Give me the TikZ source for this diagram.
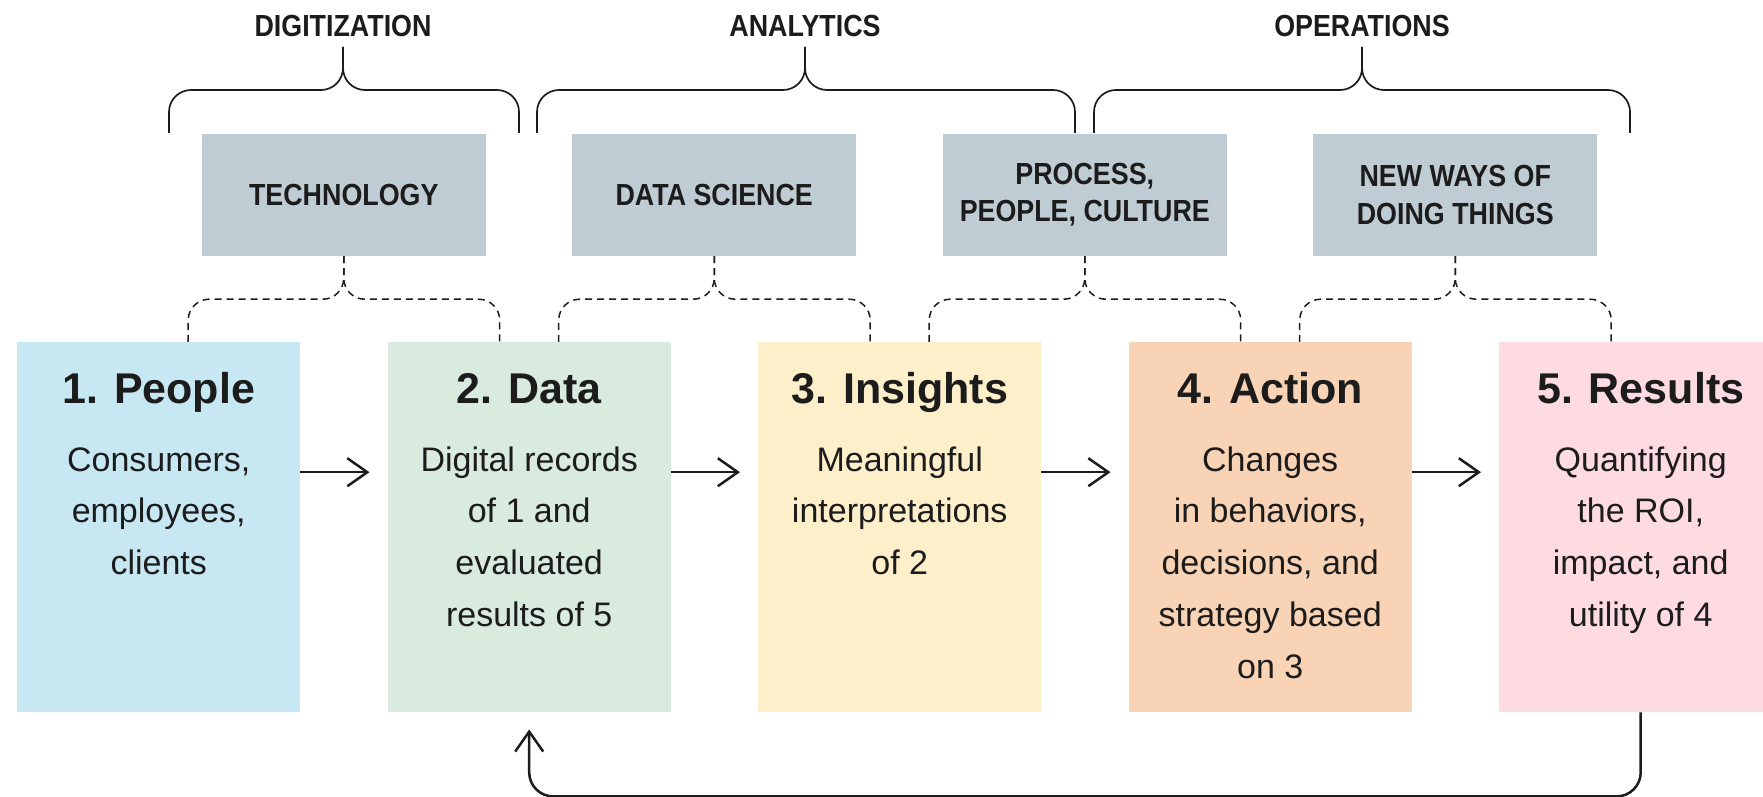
\documentclass[tikz,border=0pt]{standalone}
\usepackage{fontspec}
\setmainfont{Liberation Sans}
\newfontfamily\hdfont{Liberation Sans}[FakeStretch=0.88]
\usetikzlibrary{arrows.meta,calc}
\definecolor{ink}{HTML}{1C1C1C}
\definecolor{cPeople}{HTML}{C7E8F3}
\definecolor{cData}{HTML}{D9EADF}
\definecolor{cInsight}{HTML}{FEEFCB}
\definecolor{cAction}{HTML}{F8D3B5}
\definecolor{cResult}{HTML}{FEDBE1}
\definecolor{cGray}{HTML}{C0CCD3}
\begin{document}
\begin{tikzpicture}[x=1pt,y=-1pt,
  stagebox/.style={rectangle, inner sep=0pt, minimum width=283pt, minimum height=370pt, anchor=north west},
  catbox/.style={rectangle, fill=cGray, inner sep=0pt, minimum width=284pt, minimum height=122pt, align=center, text=ink, font=\hdfont\bfseries\fontsize{30.5}{37}\selectfont},
  ttl/.style={anchor=base, inner sep=0pt, text=ink, font=\bfseries\fontsize{43}{50}\selectfont},
  desc/.style={anchor=north, inner sep=0pt, align=center, text=ink, font=\fontsize{34}{51.7}\selectfont},
  grp/.style={anchor=base, inner sep=0pt, text=ink, font=\hdfont\bfseries\fontsize{30.5}{37}\selectfont},
  grpbrace/.style={draw=ink, line width=1.7pt, rounded corners=22pt},
  dashbrace/.style={draw=ink, line width=1.5pt, dash pattern=on 7pt off 5pt, rounded corners=21pt},
  flow/.style={draw=ink, line width=2.5pt, -{Straight Barb[length=20pt,width=28pt]}}
]
\useasboundingbox (0,0) rectangle (1763,797);
\clip (0,0) rectangle (1763,797);

% stage boxes
\node[stagebox, fill=cPeople]  (s1) at (17,342) {};
\node[stagebox, fill=cData]    (s2) at (387.5,342) {};
\node[stagebox, fill=cInsight] (s3) at (758,342) {};
\node[stagebox, fill=cAction]  (s4) at (1128.5,342) {};
\node[stagebox, fill=cResult]  (s5) at (1499,342) {};

% titles
\node[ttl] (t1) at (s1.north |- 0,403) {1. People};
\node[ttl] (t2) at (s2.north |- 0,403) {2. Data};
\node[ttl] (t3) at (s3.north |- 0,403) {3. Insights};
\node[ttl] (t4) at (s4.north |- 0,403) {4. Action};
\node[ttl] (t5) at (s5.north |- 0,403) {5. Results};

% descriptions
\node[desc] (d1) at (s1.north |- 0,441) {\rule{0pt}{30pt}Consumers,\\employees,\\clients};
\node[desc] (d2) at (s2.north |- 0,441) {\rule{0pt}{30pt}Digital records\\of 1 and\\evaluated\\results of 5};
\node[desc] (d3) at (s3.north |- 0,441) {\rule{0pt}{30pt}Meaningful\\interpretations\\of 2};
\node[desc] (d4) at (s4.north |- 0,441) {\rule{0pt}{30pt}Changes\\in behaviors,\\decisions, and\\strategy based\\on 3};
\node[desc] (d5) at (s5.north |- 0,441) {\rule{0pt}{30pt}Quantifying\\the ROI,\\impact, and\\utility of 4};

% category boxes
\node[catbox] (c1) at (343.75,195) {TECHNOLOGY};
\node[catbox] (c2) at (714.25,195) {DATA SCIENCE};
\node[catbox] (c3) at (1084.75,195) {PROCESS,\\PEOPLE, CULTURE};
\node[catbox] (c4) at (1455.25,195) {NEW WAYS OF\\DOING THINGS};

% group labels
\node[grp] (g1) at (343,37) {DIGITIZATION};
\node[grp] (g2) at (805,37) {ANALYTICS};
\node[grp] (g3) at (1362,37) {OPERATIONS};

% group braces
\draw[grpbrace] (169,133) -- (169,90) -- (343,90) -- (343,47);
\draw[grpbrace] (343,47) -- (343,90) -- (519,90) -- (519,133);
\draw[grpbrace] (537,133) -- (537,90) -- (805,90) -- (805,47);
\draw[grpbrace] (805,47) -- (805,90) -- (1075,90) -- (1075,133);
\draw[grpbrace] (1094,133) -- (1094,90) -- (1362,90) -- (1362,47);
\draw[grpbrace] (1362,47) -- (1362,90) -- (1630,90) -- (1630,133);

% dashed braces from categories to stages
\foreach \c/\l/\r in {c1/s1/s2, c2/s2/s3, c3/s3/s4, c4/s4/s5}{
  \draw[dashbrace] (\c.south) -- ++(0,43) -| ($(\l.north)+(29.5,0)$);
  \draw[dashbrace] (\c.south) -- ++(0,43) -| ($(\r.north)+(-29.5,0)$);
}

% flow arrows
\foreach \a/\b in {s1/s2, s2/s3, s3/s4, s4/s5}{
  \draw[flow, shorten >=18pt] ($(\a.east)+(0,-55)$) -- ($(\b.west)+(0,-55)$);
}

% feedback arrow
\draw[flow, rounded corners=24pt, shorten >=17pt] (s5.south) |- ($(s2.south)+(0,84)$) -- (s2.south);
\end{tikzpicture}
\end{document}
